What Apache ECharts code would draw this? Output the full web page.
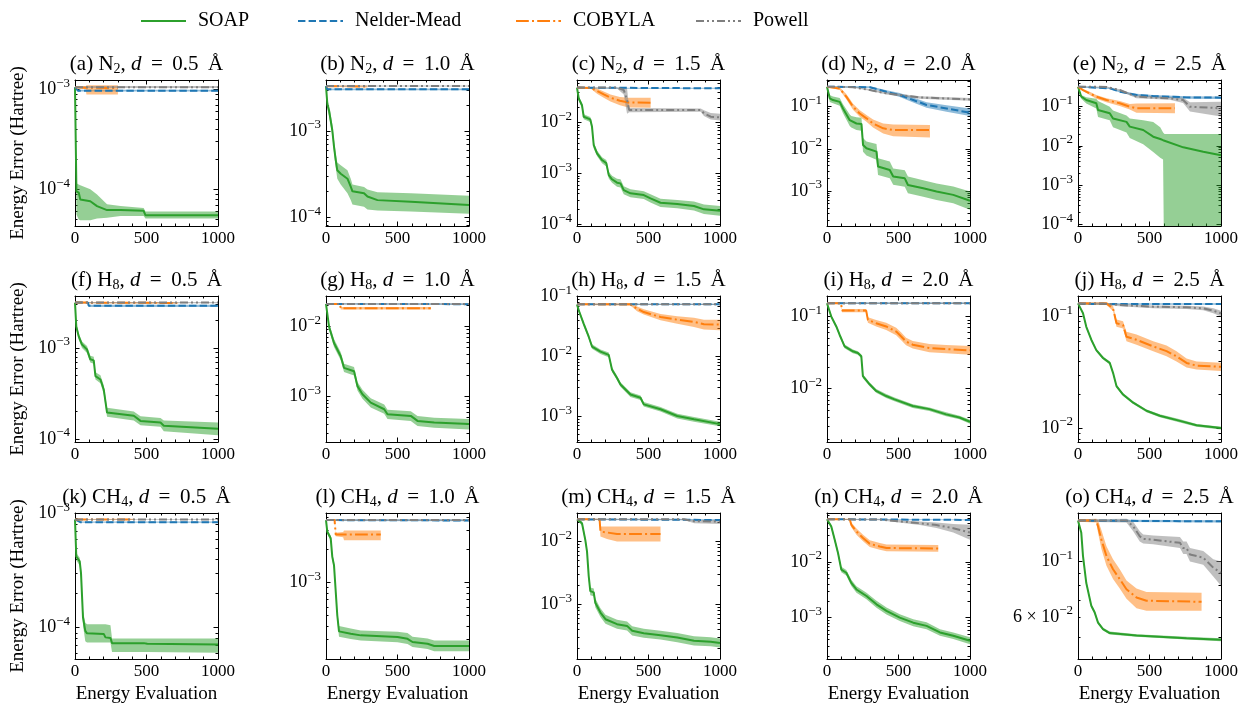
<!DOCTYPE html>
<html><head><meta charset="utf-8">
<script src="https://cdn.jsdelivr.net/npm/echarts@6/dist/echarts.min.js"></script>
<style>html,body{margin:0;padding:0;background:#fff}#c{width:1248px;height:706px}</style>
</head><body><div id="c"></div>
<script>
// ---------------- labels / categories ----------------
const methods = ['SOAP', 'Nelder-Mead', 'COBYLA', 'Powell'];
const panelLetters = ['a','b','c','d','e','f','g','h','i','j','k','l','m','n','o'];
const moleculeBase = ['N', 'H', 'CH'];
const moleculeSub = ['2', '8', '4'];
const distances = ['0.5', '1.0', '1.5', '2.0', '2.5'];
const xTickValues = [0, 500, 1000];
const xLabel = 'Energy Evaluation';
const yLabel = 'Energy Error (Hartree)';
// y-axis limits (Hartree) per panel a..o
const yLimits = [
  [4.30e-5, 1.24e-3], [7.92e-5, 3.90e-3], [9.27e-5, 6.92e-2], [1.48e-4, 0.430], [9.06e-5, 0.480],
  [9.27e-5, 3.72e-3], [2.25e-4, 2.72e-2], [3.72e-4, 0.102], [1.82e-3, 0.193], [7.50e-3, 0.153],
  [5.30e-5, 1.01e-3], [2.00e-4, 4.33e-3], [1.35e-4, 2.84e-2], [1.80e-4, 7.59e-2], [4.08e-2, 0.156]
];
// labelled y ticks where not simply the decades
const yTickLabels = [null,null,null,null,null,null,null,null,null,null,null,null,null,null,[0.1, 0.06]];

// ---------------- data: [evaluation, mean, lower, upper] ----------------
const a_SOAP = [[0,1.05e-3,1.05e-3,1.05e-3],[10,9.5e-5,5.6e-5,1.15e-4],[26,9.3e-5,5.0e-5,1.12e-4],[37,7.9e-5,4.9e-5,1.1e-4],[107,7.6e-5,4.9e-5,1.0e-4],[154,6.8e-5,5.1e-5,8.9e-5],[224,6.2e-5,5.2e-5,7.1e-5],[318,6.2e-5,5.4e-5,6.8e-5],[480,6.1e-5,5.4e-5,6.5e-5],[493,5.5e-5,5.1e-5,6.0e-5],[1000,5.5e-5,5.1e-5,6.0e-5]];
const a_NM = [[0,1.05e-3,1.04e-3,1.06e-3],[20,9.7e-4,9.5e-4,9.9e-4],[1000,9.7e-4,9.5e-4,9.9e-4]];
const a_COBYLA = [[0,1.05e-3,1.04e-3,1.06e-3],[75,1.04e-3,1.0e-3,1.07e-3],[80,1.03e-3,8.9e-4,1.1e-3],[300,1.03e-3,8.9e-4,1.1e-3]];
const a_Powell = [[0,1.05e-3,1.03e-3,1.08e-3],[1000,1.05e-3,1.03e-3,1.08e-3]];

const b_SOAP = [[0,3.31e-3,3.31e-3,3.31e-3],[10,2.0e-3,1.78e-3,2.24e-3],[21,1.74e-3,1.51e-3,2.0e-3],[44,1.02e-3,8.9e-4,1.2e-3],[56,6.6e-4,5.6e-4,7.9e-4],[68,4.6e-4,3.8e-4,5.5e-4],[79,3.5e-4,2.8e-4,4.3e-4],[103,3.2e-4,2.4e-4,4.0e-4],[150,2.8e-4,1.9e-4,3.5e-4],[173,2.26e-4,1.58e-4,2.8e-4],[185,2.0e-4,1.41e-4,2.4e-4],[266,1.9e-4,1.32e-4,2.24e-4],[290,1.74e-4,1.23e-4,2.1e-4],[360,1.58e-4,1.2e-4,1.95e-4],[593,1.51e-4,1.17e-4,1.9e-4],[1000,1.39e-4,1.1e-4,1.78e-4]];
const b_NM = [[0,3.31e-3,3.28e-3,3.35e-3],[10,3.04e-3,2.97e-3,3.1e-3],[1000,3.04e-3,2.97e-3,3.1e-3]];
const b_COBYLA = [[0,3.31e-3,3.25e-3,3.37e-3],[290,3.28e-3,3.2e-3,3.37e-3]];
const b_Powell = [[0,3.32e-3,3.28e-3,3.36e-3],[1000,3.32e-3,3.28e-3,3.36e-3]];

const c_SOAP = [[0,4.9e-2,4.9e-2,4.9e-2],[12,3.0e-2,2.7e-2,3.3e-2],[35,2.2e-2,1.95e-2,2.45e-2],[47,1.31e-2,1.17e-2,1.47e-2],[93,1.16e-2,1.03e-2,1.3e-2],[105,8.3e-3,7.2e-3,9.5e-3],[117,3.6e-3,3.1e-3,4.1e-3],[140,2.5e-3,2.2e-3,2.85e-3],[175,1.84e-3,1.6e-3,2.1e-3],[205,1.6e-3,1.38e-3,1.85e-3],[222,9.3e-4,8.0e-4,1.08e-3],[245,7.7e-4,6.6e-4,9.0e-4],[280,6.6e-4,5.5e-4,7.9e-4],[304,6.4e-4,5.3e-4,7.7e-4],[327,4.7e-4,3.9e-4,5.6e-4],[374,4.07e-4,3.4e-4,4.9e-4],[467,3.77e-4,3.15e-4,4.5e-4],[514,3.23e-4,2.7e-4,3.9e-4],[584,2.66e-4,2.2e-4,3.2e-4],[701,2.51e-4,2.08e-4,3.0e-4],[818,2.29e-4,1.88e-4,2.8e-4],[888,1.97e-4,1.6e-4,2.45e-4],[1000,1.85e-4,1.48e-4,2.3e-4]];
const c_NM = [[0,4.9e-2,4.8e-2,5.0e-2],[10,4.75e-2,4.65e-2,4.85e-2],[1000,4.75e-2,4.65e-2,4.85e-2]];
const c_COBYLA = [[0,4.9e-2,4.9e-2,4.9e-2],[100,4.8e-2,4.6e-2,5.0e-2],[140,4.2e-2,3.7e-2,4.7e-2],[187,3.6e-2,3.1e-2,4.1e-2],[234,3.1e-2,2.6e-2,3.6e-2],[300,2.7e-2,2.2e-2,3.2e-2],[360,2.5e-2,2.0e-2,3.1e-2],[515,2.48e-2,1.97e-2,3.1e-2]];
const c_Powell = [[0,4.9e-2,4.8e-2,5.0e-2],[280,4.9e-2,4.7e-2,5.0e-2],[327,4.4e-2,3.6e-2,4.9e-2],[350,2.8e-2,1.5e-2,4.7e-2],[365,1.77e-2,1.6e-2,1.95e-2],[865,1.77e-2,1.65e-2,1.9e-2],[888,1.53e-2,1.35e-2,1.75e-2],[935,1.31e-2,1.15e-2,1.55e-2],[1000,1.27e-2,1.1e-2,1.5e-2]];

const d_SOAP = [[0,0.298,0.298,0.298],[19,0.158,0.13,0.19],[42,0.144,0.12,0.175],[89,0.13,0.105,0.16],[112,9.1e-2,7.0e-2,0.115],[159,4.8e-2,3.5e-2,6.5e-2],[170,4.4e-2,3.2e-2,6.0e-2],[206,4.0e-2,2.8e-2,5.6e-2],[241,3.9e-2,2.7e-2,5.5e-2],[252,1.24e-2,8.5e-3,1.8e-2],[276,1.03e-2,7.0e-3,1.5e-2],[346,8.6e-3,5.5e-3,1.3e-2],[357,3.8e-3,2.4e-3,6.0e-3],[439,3.16e-3,2.0e-3,5.0e-3],[463,2.2e-3,1.4e-3,3.4e-3],[544,2.0e-3,1.27e-3,3.1e-3],[566,1.39e-3,8.8e-4,2.2e-3],[673,1.16e-3,7.3e-4,1.8e-3],[766,9.7e-4,6.1e-4,1.5e-3],[883,8.1e-4,5.1e-4,1.28e-3],[1000,5.9e-4,3.6e-4,9.7e-4]];
const d_NM = [[0,0.298,0.29,0.305],[300,0.29,0.275,0.305],[416,0.226,0.21,0.245],[509,0.189,0.17,0.21],[603,0.144,0.125,0.165],[696,0.11,0.095,0.128],[836,9.1e-2,7.6e-2,0.108],[1000,7.2e-2,6.0e-2,9.1e-2]];
const d_COBYLA = [[0,0.298,0.29,0.305],[89,0.27,0.25,0.29],[135,0.173,0.15,0.2],[182,0.1,8.5e-2,0.118],[229,6.9e-2,5.8e-2,8.2e-2],[276,5.3e-2,4.4e-2,6.4e-2],[322,4.0e-2,3.2e-2,5.0e-2],[393,3.07e-2,2.3e-2,4.0e-2],[463,2.8e-2,2.0e-2,3.8e-2],[720,2.8e-2,1.87e-2,3.7e-2]];
const d_Powell = [[0,0.298,0.29,0.305],[182,0.29,0.28,0.3],[300,0.248,0.238,0.258],[416,0.207,0.195,0.22],[650,0.166,0.155,0.178],[1000,0.149,0.138,0.16]];

const e_SOAP = [[0,0.324,0.324,0.324],[23,0.18,0.16,0.2],[58,0.148,0.12,0.175],[128,0.122,0.09,0.16],[140,8.2e-2,5.5e-2,0.14],[222,6.8e-2,4.5e-2,0.1],[245,5.0e-2,3.0e-2,8.0e-2],[339,4.1e-2,2.2e-2,6.0e-2],[362,3.1e-2,1.6e-2,5.0e-2],[456,2.54e-2,1.1e-2,4.5e-2],[526,1.72e-2,7.0e-3,4.1e-2],[575,1.5e-2,5.0e-3,3.0e-2],[595,1.4e-2,4.5e-3,2.2e-2],[605,1.35e-2,1e-6,2.0e-2],[736,9.2e-3,1e-6,2.0e-2],[876,7.1e-3,1e-6,2.0e-2],[1000,5.8e-3,1e-6,2.0e-2]];
const e_NM = [[0,0.324,0.31,0.335],[222,0.294,0.285,0.305],[292,0.242,0.23,0.255],[409,0.199,0.185,0.215],[526,0.187,0.172,0.2],[759,0.173,0.16,0.185],[1000,0.17,0.157,0.183]];
const e_COBYLA = [[0,0.324,0.315,0.33],[35,0.266,0.25,0.285],[82,0.219,0.2,0.24],[128,0.18,0.16,0.2],[199,0.148,0.13,0.165],[292,0.122,0.105,0.14],[362,0.1,8.5e-2,0.118],[409,9.1e-2,7.0e-2,0.12],[678,9.1e-2,6.8e-2,0.122]];
const e_Powell = [[0,0.324,0.315,0.33],[199,0.32,0.31,0.33],[292,0.266,0.25,0.28],[409,0.18,0.165,0.195],[642,0.163,0.15,0.178],[735,0.148,0.125,0.17],[783,0.1,7.5e-2,0.13],[1000,9.1e-2,5.6e-2,0.134]];

const f_SOAP = [[0,3.15e-3,3.15e-3,3.15e-3],[9,1.72e-3,1.6e-3,1.85e-3],[26,1.34e-3,1.24e-3,1.45e-3],[49,1.09e-3,1.0e-3,1.18e-3],[84,9.6e-4,8.8e-4,1.05e-3],[107,7.5e-4,6.9e-4,8.2e-4],[131,7.3e-4,6.7e-4,8.0e-4],[143,4.9e-4,4.5e-4,5.4e-4],[178,4.5e-4,4.1e-4,5.0e-4],[201,3.5e-4,3.1e-4,3.9e-4],[224,1.95e-4,1.75e-4,2.2e-4],[411,1.8e-4,1.6e-4,2.0e-4],[458,1.58e-4,1.42e-4,1.78e-4],[598,1.52e-4,1.36e-4,1.7e-4],[621,1.4e-4,1.22e-4,1.6e-4],[1000,1.3e-4,1.1e-4,1.52e-4]];
const f_NM = [[0,3.15e-3,3.1e-3,3.2e-3],[90,3.15e-3,3.1e-3,3.2e-3],[96,2.9e-3,2.82e-3,2.98e-3],[1000,2.9e-3,2.82e-3,2.98e-3]];
const f_COBYLA = [[0,3.15e-3,3.1e-3,3.2e-3],[715,3.12e-3,3.05e-3,3.2e-3]];
const f_Powell = [[0,3.15e-3,3.1e-3,3.2e-3],[1000,3.15e-3,3.1e-3,3.2e-3]];

const g_SOAP = [[0,2.1e-2,2.1e-2,2.1e-2],[21,1.0e-2,9.0e-3,1.1e-2],[56,5.8e-3,5.1e-3,6.6e-3],[103,3.76e-3,3.3e-3,4.3e-3],[126,2.57e-3,2.25e-3,2.95e-3],[196,2.3e-3,2.0e-3,2.65e-3],[220,1.41e-3,1.22e-3,1.62e-3],[255,1.08e-3,9.3e-4,1.25e-3],[313,8.2e-4,7.0e-4,9.5e-4],[407,6.6e-4,5.7e-4,7.7e-4],[430,5.6e-4,4.8e-4,6.5e-4],[593,5.3e-4,4.5e-4,6.2e-4],[640,4.5e-4,3.8e-4,5.3e-4],[757,4.27e-4,3.6e-4,5.0e-4],[1000,4.05e-4,3.4e-4,4.8e-4]];
const g_NM = [[0,2.1e-2,2.05e-2,2.15e-2],[1000,2.08e-2,2.03e-2,2.13e-2]];
const g_COBYLA = [[0,2.1e-2,2.05e-2,2.15e-2],[98,2.1e-2,2.05e-2,2.15e-2],[103,1.82e-2,1.75e-2,1.9e-2],[733,1.82e-2,1.75e-2,1.9e-2]];
const g_Powell = [[0,2.1e-2,2.05e-2,2.15e-2],[1000,2.1e-2,2.05e-2,2.15e-2]];

const h_SOAP = [[0,7.4e-2,7.4e-2,7.4e-2],[12,5.9e-2,5.5e-2,6.3e-2],[47,3.5e-2,3.2e-2,3.8e-2],[82,2.13e-2,1.95e-2,2.3e-2],[105,1.46e-2,1.34e-2,1.6e-2],[164,1.2e-2,1.1e-2,1.31e-2],[222,1.06e-2,9.7e-3,1.16e-2],[245,6.0e-3,5.5e-3,6.6e-3],[280,4.36e-3,4.0e-3,4.75e-3],[304,3.39e-3,3.1e-3,3.7e-3],[374,2.31e-3,2.1e-3,2.52e-3],[444,2.04e-3,1.87e-3,2.23e-3],[467,1.58e-3,1.45e-3,1.73e-3],[584,1.31e-3,1.2e-3,1.43e-3],[701,1.01e-3,9.2e-4,1.1e-3],[818,8.9e-4,8.1e-4,9.7e-4],[1000,7.4e-4,6.8e-4,8.1e-4]];
const h_NM = [[0,7.4e-2,7.2e-2,7.6e-2],[1000,7.4e-2,7.2e-2,7.6e-2]];
const h_COBYLA = [[0,7.4e-2,7.2e-2,7.6e-2],[374,7.4e-2,7.1e-2,7.7e-2],[420,6.25e-2,5.7e-2,6.8e-2],[467,5.5e-2,5.0e-2,6.1e-2],[584,4.55e-2,4.0e-2,5.1e-2],[701,4.1e-2,3.5e-2,4.7e-2],[818,3.77e-2,3.1e-2,4.4e-2],[888,3.44e-2,2.8e-2,4.1e-2],[1000,3.4e-2,2.74e-2,4.1e-2]];
const h_Powell = [[0,7.4e-2,7.2e-2,7.6e-2],[1000,7.4e-2,7.2e-2,7.6e-2]];

const i_SOAP = [[0,0.153,0.153,0.153],[30,0.1,9.5e-2,0.106],[65,7.3e-2,6.9e-2,7.7e-2],[88,5.6e-2,5.3e-2,5.9e-2],[123,3.86e-2,3.65e-2,4.1e-2],[181,3.3e-2,3.1e-2,3.5e-2],[216,3.13e-2,2.95e-2,3.3e-2],[240,2.81e-2,2.65e-2,2.98e-2],[251,1.49e-2,1.4e-2,1.58e-2],[298,1.15e-2,1.08e-2,1.22e-2],[344,9.3e-3,8.75e-3,9.9e-3],[414,7.9e-3,7.4e-3,8.4e-3],[472,7.1e-3,6.7e-3,7.55e-3],[600,5.75e-3,5.4e-3,6.1e-3],[716,5.2e-3,4.9e-3,5.5e-3],[833,4.4e-3,4.15e-3,4.7e-3],[926,3.98e-3,3.75e-3,4.22e-3],[1000,3.47e-3,3.25e-3,3.7e-3]];
const i_NM = [[0,0.153,0.149,0.157],[1000,0.153,0.149,0.157]];
const i_COBYLA = [[0,0.153,0.149,0.157],[98,0.153,0.149,0.157],[105,0.121,0.115,0.127],[274,0.121,0.115,0.127],[286,9.0e-2,8.2e-2,9.8e-2],[344,8.1e-2,7.3e-2,9.0e-2],[414,7.3e-2,6.5e-2,8.2e-2],[484,6.2e-2,5.5e-2,7.0e-2],[519,5.3e-2,4.7e-2,6.0e-2],[553,4.5e-2,4.0e-2,5.1e-2],[600,4.07e-2,3.6e-2,4.6e-2],[716,3.66e-2,3.2e-2,4.15e-2],[833,3.55e-2,3.1e-2,4.05e-2],[1000,3.4e-2,2.95e-2,3.9e-2]];
const i_Powell = [[0,0.153,0.149,0.157],[1000,0.153,0.149,0.157]];

const j_SOAP = [[0,0.1315,0.1315,0.1315],[35,0.107,0.104,0.11],[58,8.1e-2,7.85e-2,8.35e-2],[93,6.2e-2,6.0e-2,6.4e-2],[128,5.0e-2,4.85e-2,5.15e-2],[175,4.25e-2,4.12e-2,4.38e-2],[222,3.84e-2,3.72e-2,3.96e-2],[245,3.13e-2,3.03e-2,3.23e-2],[269,2.38e-2,2.3e-2,2.46e-2],[315,2.0e-2,1.94e-2,2.06e-2],[386,1.69e-2,1.64e-2,1.74e-2],[479,1.43e-2,1.39e-2,1.47e-2],[572,1.29e-2,1.25e-2,1.33e-2],[713,1.16e-2,1.12e-2,1.2e-2],[829,1.06e-2,1.03e-2,1.09e-2],[1000,1.0e-2,9.7e-3,1.03e-2]];
const j_NM = [[0,0.1315,0.129,0.134],[30,0.13,0.128,0.132],[1000,0.13,0.128,0.132]];
const j_COBYLA = [[0,0.1315,0.129,0.134],[199,0.131,0.127,0.135],[245,0.1186,0.112,0.125],[269,8.7e-2,8.1e-2,9.4e-2],[315,8.4e-2,7.8e-2,9.1e-2],[339,6.6e-2,6.0e-2,7.3e-2],[409,6.2e-2,5.6e-2,6.9e-2],[526,5.4e-2,4.9e-2,6.0e-2],[619,4.9e-2,4.4e-2,5.5e-2],[689,4.4e-2,3.95e-2,4.9e-2],[759,3.84e-2,3.5e-2,4.2e-2],[829,3.63e-2,3.35e-2,3.95e-2],[1000,3.54e-2,3.25e-2,3.85e-2]];
const j_Powell = [[0,0.1315,0.129,0.134],[175,0.131,0.128,0.134],[292,0.127,0.124,0.13],[526,0.1227,0.119,0.126],[759,0.121,0.117,0.125],[876,0.1186,0.114,0.123],[946,0.113,0.107,0.119],[1000,0.107,0.1,0.113]];

const k_SOAP = [[0,8.87e-4,8.87e-4,8.87e-4],[9,4.2e-4,3.9e-4,4.5e-4],[33,3.8e-4,3.5e-4,4.1e-4],[42,3.0e-4,2.7e-4,3.3e-4],[56,1.22e-4,1.05e-4,1.4e-4],[72,9.35e-5,7.6e-5,1.1e-4],[84,8.9e-5,7.4e-5,1.07e-4],[201,8.8e-5,7.4e-5,1.07e-4],[213,8.2e-5,7.4e-5,1.07e-4],[248,8.1e-5,7.4e-5,1.05e-4],[259,7.3e-5,6.1e-5,8.0e-5],[481,7.3e-5,6.1e-5,8.0e-5],[505,7.2e-5,6.1e-5,8.0e-5],[1000,7.1e-5,6.0e-5,8.0e-5]];
const k_NM = [[0,8.87e-4,8.8e-4,8.95e-4],[37,8.4e-4,8.3e-4,8.5e-4],[1000,8.4e-4,8.3e-4,8.5e-4]];
const k_COBYLA = [[0,8.87e-4,8.8e-4,8.95e-4],[411,8.87e-4,8.75e-4,9.0e-4]];
const k_Powell = [[0,8.87e-4,8.8e-4,8.95e-4],[1000,8.87e-4,8.8e-4,8.95e-4]];

const l_SOAP = [[0,3.73e-3,3.73e-3,3.73e-3],[9,2.92e-3,2.8e-3,3.05e-3],[33,2.54e-3,2.4e-3,2.7e-3],[44,1.72e-3,1.6e-3,1.85e-3],[56,1.44e-3,1.33e-3,1.56e-3],[79,5.0e-4,4.5e-4,5.5e-4],[91,3.58e-4,3.2e-4,4.0e-4],[173,3.4e-4,3.05e-4,3.8e-4],[243,3.29e-4,2.95e-4,3.65e-4],[500,3.18e-4,2.85e-4,3.55e-4],[570,3.06e-4,2.75e-4,3.45e-4],[605,2.86e-4,2.57e-4,3.2e-4],[710,2.76e-4,2.47e-4,3.08e-4],[757,2.63e-4,2.35e-4,2.95e-4],[1000,2.63e-4,2.35e-4,2.95e-4]];
const l_NM = [[0,3.73e-3,3.65e-3,3.8e-3],[1000,3.7e-3,3.63e-3,3.78e-3]];
const l_COBYLA = [[0,3.73e-3,3.65e-3,3.8e-3],[60,3.73e-3,3.65e-3,3.8e-3],[68,2.75e-3,2.65e-3,2.85e-3],[120,2.75e-3,2.6e-3,2.9e-3],[126,2.75e-3,2.44e-3,3.0e-3],[383,2.75e-3,2.44e-3,3.0e-3]];
const l_Powell = [[0,3.73e-3,3.65e-3,3.8e-3],[1000,3.73e-3,3.65e-3,3.8e-3]];

const m_SOAP = [[0,2.25e-2,2.25e-2,2.25e-2],[12,2.15e-2,2.05e-2,2.25e-2],[35,1.95e-2,1.8e-2,2.1e-2],[58,1.06e-2,9.5e-3,1.18e-2],[70,6.95e-3,6.2e-3,7.8e-3],[82,2.8e-3,2.45e-3,3.2e-3],[93,1.62e-3,1.4e-3,1.85e-3],[117,1.55e-3,1.35e-3,1.78e-3],[128,1.06e-3,9.0e-4,1.24e-3],[164,7.4e-4,6.3e-4,8.7e-4],[199,5.8e-4,4.9e-4,6.8e-4],[280,4.83e-4,4.1e-4,5.7e-4],[350,4.54e-4,3.85e-4,5.35e-4],[386,3.79e-4,3.2e-4,4.5e-4],[467,3.47e-4,2.95e-4,4.1e-4],[584,3.23e-4,2.75e-4,3.8e-4],[701,2.97e-4,2.5e-4,3.5e-4],[818,2.63e-4,2.22e-4,3.1e-4],[935,2.54e-4,2.15e-4,3.0e-4],[1000,2.42e-4,2.05e-4,2.85e-4]];
const m_NM = [[0,2.25e-2,2.2e-2,2.3e-2],[1000,2.2e-2,2.15e-2,2.25e-2]];
const m_COBYLA = [[0,2.25e-2,2.2e-2,2.3e-2],[158,2.25e-2,2.2e-2,2.3e-2],[164,1.44e-2,1.2e-2,1.73e-2],[210,1.39e-2,1.1e-2,1.73e-2],[280,1.32e-2,1.0e-2,1.73e-2],[584,1.32e-2,1.0e-2,1.73e-2]];
const m_Powell = [[0,2.25e-2,2.2e-2,2.3e-2],[748,2.25e-2,2.2e-2,2.3e-2],[820,2.1e-2,1.95e-2,2.2e-2],[1000,2.07e-2,1.9e-2,2.2e-2]];

const n_SOAP = [[0,5.86e-2,5.86e-2,5.86e-2],[30,4.34e-2,4.0e-2,4.7e-2],[54,2.5e-2,2.25e-2,2.75e-2],[77,1.45e-2,1.3e-2,1.6e-2],[100,7.3e-3,6.5e-3,8.2e-3],[135,6.4e-3,5.7e-3,7.2e-3],[170,4.2e-3,3.7e-3,4.8e-3],[206,3.2e-3,2.8e-3,3.65e-3],[276,2.44e-3,2.13e-3,2.8e-3],[346,1.73e-3,1.5e-3,2.0e-3],[416,1.32e-3,1.14e-3,1.52e-3],[509,1.0e-3,8.7e-4,1.15e-3],[603,8.1e-4,7.0e-4,9.3e-4],[696,7.1e-4,6.2e-4,8.2e-4],[790,5.4e-4,4.7e-4,6.2e-4],[883,4.7e-4,4.1e-4,5.4e-4],[1000,3.83e-4,3.3e-4,4.45e-4]];
const n_NM = [[0,5.86e-2,5.75e-2,5.95e-2],[1000,5.7e-2,5.6e-2,5.8e-2]];
const n_COBYLA = [[0,5.86e-2,5.75e-2,5.95e-2],[159,5.86e-2,5.7e-2,6.0e-2],[170,4.65e-2,4.2e-2,5.1e-2],[206,3.53e-2,3.1e-2,4.0e-2],[252,2.69e-2,2.35e-2,3.1e-2],[299,2.12e-2,1.85e-2,2.45e-2],[369,1.9e-2,1.65e-2,2.2e-2],[416,1.78e-2,1.55e-2,2.05e-2],[778,1.75e-2,1.52e-2,2.02e-2]];
const n_Powell = [[0,5.86e-2,5.75e-2,5.95e-2],[369,5.8e-2,5.6e-2,6.0e-2],[533,5.3e-2,5.0e-2,5.6e-2],[650,4.97e-2,4.6e-2,5.35e-2],[766,4.6e-2,4.1e-2,5.1e-2],[883,4.05e-2,3.4e-2,4.8e-2],[1000,3.39e-2,2.5e-2,4.65e-2]];

const o_SOAP = [[0,0.1455,0.1455,0.1455],[23,0.13,0.128,0.132],[35,0.105,0.103,0.107],[58,8.2e-2,8.05e-2,8.35e-2],[93,6.65e-2,6.55e-2,6.75e-2],[117,6.25e-2,6.15e-2,6.35e-2],[140,5.7e-2,5.62e-2,5.78e-2],[175,5.37e-2,5.3e-2,5.44e-2],[222,5.18e-2,5.11e-2,5.25e-2],[409,5.06e-2,5.0e-2,5.12e-2],[759,4.94e-2,4.88e-2,5.0e-2],[1000,4.87e-2,4.8e-2,4.94e-2]];
const o_NM = [[0,0.1455,0.144,0.147],[1000,0.1445,0.143,0.146]];
const o_COBYLA = [[0,0.1455,0.144,0.147],[128,0.1455,0.143,0.148],[140,0.138,0.13,0.146],[164,0.122,0.112,0.133],[199,0.105,9.6e-2,0.115],[245,9.3e-2,8.5e-2,0.102],[292,8.5e-2,7.8e-2,9.3e-2],[339,7.74e-2,7.1e-2,8.4e-2],[409,7.18e-2,6.5e-2,7.8e-2],[479,6.97e-2,6.35e-2,7.55e-2],[864,6.9e-2,6.35e-2,7.5e-2]];
const o_Powell = [[0,0.1455,0.144,0.147],[339,0.1455,0.143,0.148],[386,0.138,0.132,0.144],[432,0.126,0.12,0.132],[456,0.123,0.118,0.128],[526,0.122,0.117,0.127],[713,0.1186,0.113,0.125],[736,0.113,0.107,0.12],[759,0.113,0.107,0.12],[783,0.1066,0.1,0.113],[876,0.1035,9.7e-2,0.11],[946,9.44e-2,8.7e-2,0.102],[1000,9.0e-2,8.0e-2,0.1]];

const panelSeries = [
  [a_SOAP,a_NM,a_COBYLA,a_Powell],[b_SOAP,b_NM,b_COBYLA,b_Powell],[c_SOAP,c_NM,c_COBYLA,c_Powell],[d_SOAP,d_NM,d_COBYLA,d_Powell],[e_SOAP,e_NM,e_COBYLA,e_Powell],
  [f_SOAP,f_NM,f_COBYLA,f_Powell],[g_SOAP,g_NM,g_COBYLA,g_Powell],[h_SOAP,h_NM,h_COBYLA,h_Powell],[i_SOAP,i_NM,i_COBYLA,i_Powell],[j_SOAP,j_NM,j_COBYLA,j_Powell],
  [k_SOAP,k_NM,k_COBYLA,k_Powell],[l_SOAP,l_NM,l_COBYLA,l_Powell],[m_SOAP,m_NM,m_COBYLA,m_Powell],[n_SOAP,n_NM,n_COBYLA,n_Powell],[o_SOAP,o_NM,o_COBYLA,o_Powell]
];

// ---------------- styling / layout ----------------
const FONT = '"Liberation Serif","DejaVu Serif",serif';
const colors = ['#2ca02c', '#1f77b4', '#ff7f0e', '#7f7f7f'];
const bandColors = ['rgba(44,160,44,0.5)', 'rgba(31,119,180,0.5)', 'rgba(255,127,14,0.5)', 'rgba(127,127,127,0.5)'];
const dashes = ['solid', [7.4, 3.2], [12.8, 3.2, 2, 3.2], [8, 3, 2, 3, 2, 3]];
const GL = [75, 326, 577, 827, 1078], GT = [80, 296, 513], GW = 143, GH = 146;
const legendX = [135, 292, 510, 690];
const lg = Math.log10;

function fmtY(v) {
  const n = Math.round(v);
  if (Math.abs(v - n) < 1e-6) return '{b|10}{e|' + (n < 0 ? '\u2212' + (-n) : n) + '}';
  const e = Math.floor(v);
  const m = Math.round(Math.pow(10, v - e));
  return '{b|' + m + ' \u00d7 10}{e|' + (e < 0 ? '\u2212' + (-e) : e) + '}';
}
const yRich = {
  b: {fontFamily: FONT, fontSize: 18, color: '#000'},
  e: {fontFamily: FONT, fontSize: 13, color: '#000', padding: [0, 0, 12, 0]}
};

const option = {
  animation: false, backgroundColor: '#fff', textStyle: {fontFamily: FONT},
  grid: [], xAxis: [], yAxis: [], series: [], graphic: [],
  legend: methods.map((m, i) => ({
    data: [m], left: legendX[i], top: 6, itemWidth: 45, itemHeight: 14, selectedMode: false,
    itemStyle: {opacity: 0, borderWidth: 0},
    textStyle: {fontFamily: FONT, fontSize: 20, color: '#000', padding: [0, 0, 0, 7]}
  }))
};

const axLine = {show: true, onZero: false, lineStyle: {color: '#000', width: 1}};
const tickStyle = {color: '#000', width: 1};

function bandRenderer(d) {
  return function (params, api) {
    if (params.dataIndex !== 0) return null;
    const pts = [];
    for (let i = 0; i < d.length; i++) pts.push(api.coord([d[i][0], lg(d[i][3])]));
    for (let i = d.length - 1; i >= 0; i--) pts.push(api.coord([d[i][0], lg(d[i][2])]));
    const cs = params.coordSys;
    return {type: 'polygon', shape: {points: pts}, style: {fill: api.visual('color')},
      clipPath: {type: 'rect', shape: {x: cs.x, y: cs.y, width: cs.width, height: cs.height}}};
  };
}

for (let p = 0; p < 15; p++) {
  const r = Math.floor(p / 5), c = p % 5;
  option.grid.push({left: GL[c], top: GT[r], width: GW, height: GH});
  const lo = lg(yLimits[p][0]), hi = lg(yLimits[p][1]);
  const majors = [], minors = [];
  for (let n = Math.floor(lo); n <= Math.ceil(hi); n++) {
    if (n >= lo && n <= hi) majors.push(n);
    for (let k = 2; k < 10; k++) { const v = n + lg(k); if (v >= lo && v <= hi) minors.push(v); }
  }
  const labelVals = yTickLabels[p] ? yTickLabels[p].map(lg) : majors;
  const xi = option.xAxis.length, yi = option.yAxis.length;
  const xCommon = {gridIndex: p, type: 'value', min: xTickValues[0], max: xTickValues[2], interval: xTickValues[1] - xTickValues[0],
    axisLine: axLine, axisTick: {show: true, inside: true, length: 4.5, lineStyle: tickStyle},
    minorTick: {show: true, splitNumber: 5, length: 2.5, lineStyle: tickStyle},
    splitLine: {show: false}, minorSplitLine: {show: false}};
  option.xAxis.push(Object.assign({}, xCommon, {position: 'bottom',
    axisLabel: {show: true, margin: 4, fontFamily: FONT, fontSize: 17, color: '#000', formatter: v => String(v)},
    name: r === 2 ? xLabel : '', nameLocation: 'middle', nameGap: 26,
    nameTextStyle: {fontFamily: FONT, fontSize: 19, color: '#000'}}));
  option.xAxis.push(Object.assign({}, xCommon, {position: 'top', axisLabel: {show: false}}));
  const yCommon = {gridIndex: p, type: 'value', min: lo, max: hi, splitLine: {show: false}};
  option.yAxis.push(Object.assign({}, yCommon, {position: 'left', axisLine: axLine,
    axisTick: {show: true, inside: true, length: 4.5, lineStyle: tickStyle, customValues: majors},
    axisLabel: {show: true, margin: 5, customValues: labelVals, formatter: fmtY, rich: yRich},
    name: c === 0 ? yLabel : '', nameLocation: 'middle', nameGap: 47,
    nameTextStyle: {fontFamily: FONT, fontSize: 19, color: '#000'}}));
  option.yAxis.push(Object.assign({}, yCommon, {position: 'left', axisLine: {show: false, onZero: false},
    axisTick: {show: true, inside: true, length: 2.5, lineStyle: tickStyle, customValues: minors},
    axisLabel: {show: false}}));
  option.yAxis.push(Object.assign({}, yCommon, {position: 'right', axisLine: axLine,
    axisTick: {show: true, inside: true, length: 4.5, lineStyle: tickStyle, customValues: majors},
    axisLabel: {show: false}}));
  option.yAxis.push(Object.assign({}, yCommon, {position: 'right', axisLine: {show: false, onZero: false},
    axisTick: {show: true, inside: true, length: 2.5, lineStyle: tickStyle, customValues: minors},
    axisLabel: {show: false}}));

  // shaded bands (drawn as one polygon per method through the axis scales)
  panelSeries[p].forEach((d, m) => {
    option.series.push({type: 'custom', name: 'band_' + p + '_' + m, xAxisIndex: xi, yAxisIndex: yi,
      silent: true, z: 1, itemStyle: {color: bandColors[m]},
      data: [[d[0][0], lg(d[0][1])]], renderItem: bandRenderer(d)});
  });
  // mean lines
  panelSeries[p].forEach((d, m) => {
    option.series.push({type: 'line', name: methods[m], xAxisIndex: xi, yAxisIndex: yi, symbol: 'none', z: 2 + m,
      lineStyle: {color: colors[m], width: 2, type: dashes[m]}, itemStyle: {color: colors[m]},
      data: d.map(q => [q[0], lg(q[1])])});
  });

  // panel title
  option.graphic.push({type: 'text', x: GL[c] + GW / 2, y: GT[r] - 16, silent: true,
    style: {text: '(' + panelLetters[p] + ') ' + moleculeBase[r] + '{s|' + moleculeSub[r] + '}, {i|d}\u2009 =\u2009 ' + distances[c] + '\u2009 \u00c5',
      fontFamily: FONT, fontSize: 21, fill: '#000', align: 'center', verticalAlign: 'middle',
      rich: {s: {fontFamily: FONT, fontSize: 14, fill: '#000', padding: [11, 0, 0, 0]},
             i: {fontFamily: FONT, fontSize: 21, fontStyle: 'italic', fill: '#000'}}}});
}

const chart = echarts.init(document.getElementById('c'), null, {renderer: 'canvas', width: 1248, height: 706});
chart.setOption(option);
</script>
</body></html>
